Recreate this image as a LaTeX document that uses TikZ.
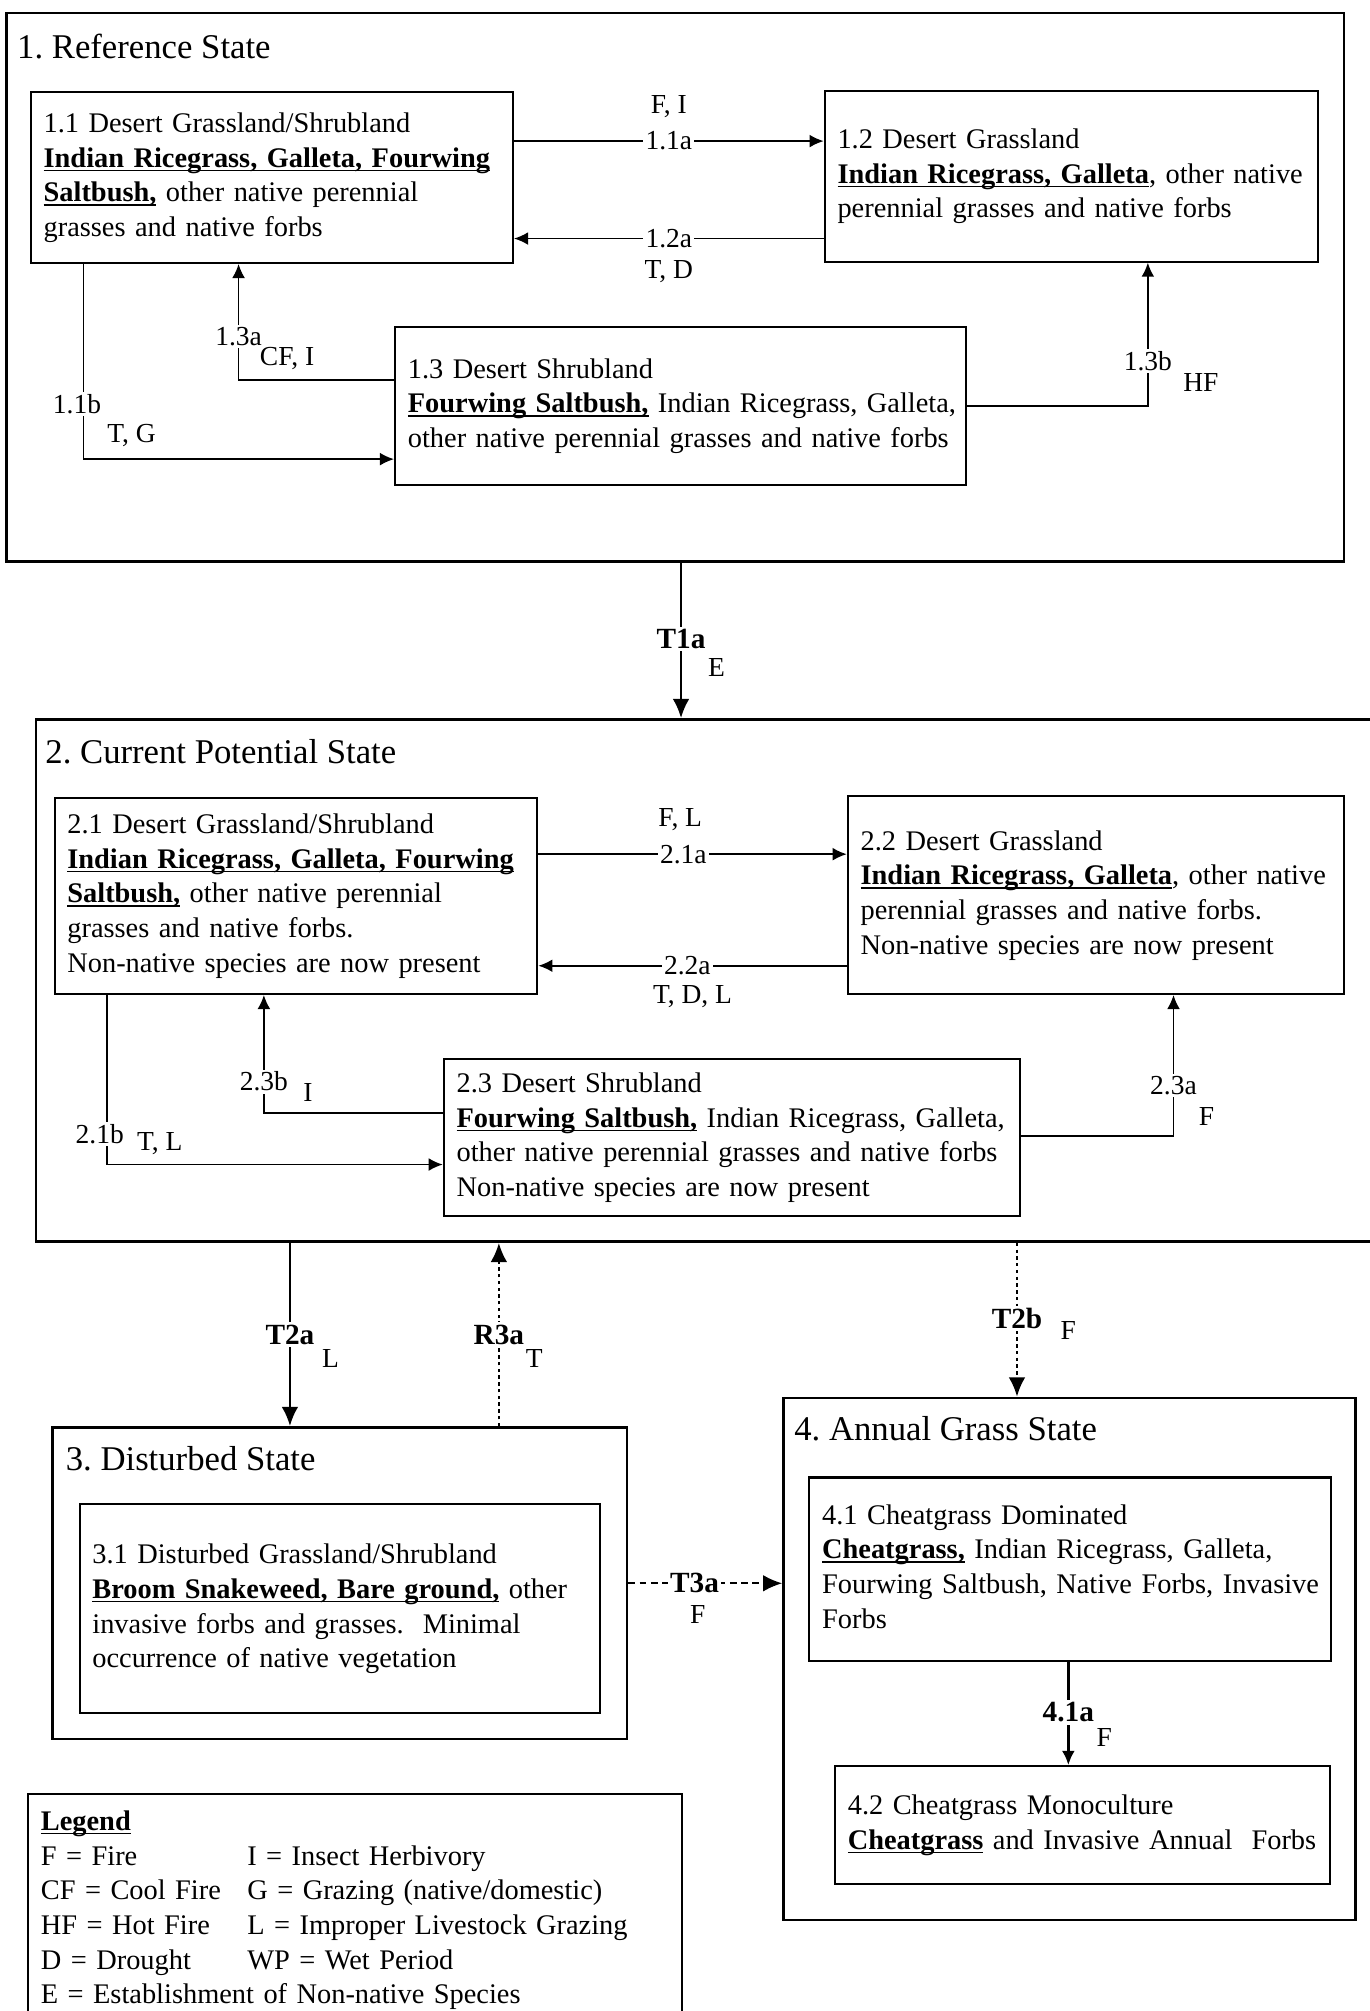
\documentclass[tikz,border=0pt]{standalone}
\usepackage{fontspec}
\setmainfont{Liberation Serif}
\usetikzlibrary{arrows.meta,positioning}

\newsavebox{\spbox}
\newcommand{\species}[1]{\sbox{\spbox}{\textbf{#1}}\rlap{\rule[-1.7pt]{\wd\spbox}{0.6pt}}\usebox{\spbox}}
\newcommand{\lines}[1]{\begin{tabular}{@{}l@{}}#1\end{tabular}}
\newcommand{\bodyfont}{\fontsize{12.6}{15.4}\selectfont}
\newcommand{\labfont}{\fontsize{12.2}{13.5}\selectfont}
\newcommand{\titlefont}{\fontsize{15.4}{18}\selectfont}

\tikzset{
  statebox/.style={draw, line width=1.2pt, inner sep=0pt},
  phasebox/.style={draw, line width=0.9pt, align=left, inner xsep=0.2cm, inner ysep=0pt, font=\bodyfont},
  statetitle/.style={anchor=west, inner sep=0pt, font=\titlefont},
  pharrow/.style={-{Latex[length=2.2mm,width=2mm]}, line width=0.8pt},
  trarrow/.style={-{Latex[length=3mm,width=2.6mm]}, line width=1.2pt},
  dotarrow/.style={trarrow, dash pattern=on 1.5pt off 1.5pt},
  dasharrow/.style={trarrow, line width=1pt, dash pattern=on 3pt off 2pt},
  edgelab/.style={fill=white, inner sep=1pt, font=\labfont},
  causelab/.style={inner sep=0pt, font=\labfont},
  translab/.style={fill=white, inner sep=1pt, font=\fontsize{13}{15}\selectfont\bfseries},
}

\begin{document}
\frenchspacing
\begin{tikzpicture}[x=0.02cm, y=-0.02cm]
            \fill[white] (0,0) rectangle (1068,1568);
            \useasboundingbox (0,0) rectangle (1068,1568);
            % States:
                \node[statebox, minimum width=20.86cm, minimum height=8.56cm] (S1) at (526.5,224) {};
                \node[statebox, minimum width=21.04cm, minimum height=8.14cm] (S2) at (554,764.5) {};
                \node[statebox, minimum width=8.96cm, minimum height=4.86cm] (S3) at (265,1234.5) {};
                \node[statebox, minimum width=8.92cm, minimum height=8.14cm] (S4) at (834,1293.5) {};
                \node[statetitle] (t1) at ([shift={(9,27)}]S1.north west) {1. Reference State};
                \node[statetitle] (t2) at ([shift={(8,26)}]S2.north west) {2. Current Potential State};
                \node[statetitle] (t3) at ([shift={(11,25)}]S3.north west) {3. Disturbed State};
                \node[statetitle] (t4) at ([shift={(9,25)}]S4.north west) {4. Annual Grass State};
            % Community phases:
                \node[phasebox, text width=7.12cm, minimum height=2.66cm] (s11) at (212,138.5)
                    {\lines{1.1 Desert Grassland/Shrubland\\ \species{Indian Ricegrass, Galleta, Fourwing}\\ \species{Saltbush,} other native perennial\\ grasses and native forbs}};
                \node[phasebox, text width=7.30cm, minimum height=2.66cm] (s12) at (835.5,137.5)
                    {\lines{1.2 Desert Grassland\\ \species{Indian Ricegrass, Galleta}, other native\\ perennial grasses and native forbs}};
                \node[phasebox, text width=8.50cm, minimum height=2.46cm] (s13) at (530.5,316.5)
                    {\lines{1.3 Desert Shrubland\\ \species{Fourwing Saltbush,} Indian Ricegrass, Galleta,\\ other native perennial grasses and native forbs}};
                \node[phasebox, text width=7.13cm, minimum height=3.06cm] (s21) at (230.75,698.5)
                    {\lines{2.1 Desert Grassland/Shrubland\\ \species{Indian Ricegrass, Galleta, Fourwing}\\ \species{Saltbush,} other native perennial\\ grasses and native forbs.\\ Non-native species are now present}};
                \node[phasebox, text width=7.34cm, minimum height=3.08cm] (s22) at (854.5,698)
                    {\lines{2.2 Desert Grassland\\ \species{Indian Ricegrass, Galleta}, other native\\ perennial grasses and native forbs.\\ Non-native species are now present}};
                \node[phasebox, text width=8.58cm, minimum height=2.44cm] (s23) at (570.5,887)
                    {\lines{2.3 Desert Shrubland\\ \species{Fourwing Saltbush,} Indian Ricegrass, Galleta,\\ other native perennial grasses and native forbs\\ Non-native species are now present}};
                \node[phasebox, text width=7.72cm, minimum height=3.26cm] (s31) at (265,1254.5)
                    {\lines{3.1 Disturbed Grassland/Shrubland\\ \species{Broom Snakeweed, Bare ground,} other\\ invasive forbs and grasses.\ \ Minimal\\ occurrence of native vegetation}};
                \node[phasebox, text width=7.74cm, minimum height=2.86cm] (s41) at (834.5,1223.5)
                    {\lines{4.1 Cheatgrass Dominated\\ \species{Cheatgrass,} Indian Ricegrass, Galleta,\\ Fourwing Saltbush, Native Forbs, Invasive\\ Forbs}};
                \node[phasebox, text width=7.32cm, minimum height=1.84cm] (s42) at (844,1423)
                    {\lines{4.2 Cheatgrass Monoculture\\ \species{Cheatgrass} and Invasive Annual\ \ Forbs}};
            % Legend:
                \node[draw, line width=1pt, anchor=north west, text width=9.8cm, inner xsep=0.2cm, inner ysep=0.26cm, align=left, font=\bodyfont] (leg) at (21,1398)
                    {\species{Legend}\\
                     \makebox[3.22cm][l]{F = Fire}I = Insect Herbivory\\
                     \makebox[3.22cm][l]{CF = Cool Fire}G = Grazing (native/domestic)\\
                     \makebox[3.22cm][l]{HF = Hot Fire}L = Improper Livestock Grazing\\
                     \makebox[3.22cm][l]{D = Drought}WP = Wet Period\\
                     E = Establishment of Non-native Species};
            % Pathways within states:
                \draw[pharrow] ([yshift=0.57cm]s11.east) coordinate (p11a) -- (p11a -| s12.west)
                    node[edgelab, midway] (l11a) {1.1a} node[causelab, midway, yshift=0.54cm] (c11a) {F, I};
                \draw[pharrow] ([yshift=-0.97cm]s12.west) coordinate (p12a) -- (p12a -| s11.east)
                    node[edgelab, midway] (l12a) {1.2a} node[causelab, midway, yshift=-0.52cm] (c12a) {T, D};
                \draw[pharrow] ([yshift=0.41cm]s13.west) -| ([xshift=-0.52cm]s11.south)
                    node[edgelab, pos=0.687] (l13a) {1.3a} node[causelab, pos=0.59, anchor=west, xshift=0.32cm] (c13a) {CF, I};
                \draw[pharrow] ([xshift=-2.94cm]s11.south) |- ([yshift=-0.83cm]s13.west)
                    node[edgelab, pos=0.358, xshift=-0.1cm] (l11b) {1.1b} node[causelab, pos=0.44, anchor=west, xshift=0.36cm] (c11b) {T, G};
                \draw[pharrow] (s13.east) -| ([xshift=1.19cm]s12.south)
                    node[edgelab, pos=0.656] (l13b) {1.3b} node[causelab, pos=0.58, anchor=west, xshift=0.54cm] (c13b) {HF};
                \draw[pharrow] ([yshift=0.65cm]s21.east) coordinate (p21a) -- (p21a -| s22.west)
                    node[edgelab, pos=0.47] (l21a) {2.1a} node[causelab, pos=0.46, yshift=0.54cm] (c21a) {F, L};
                \draw[pharrow] ([yshift=-1.1cm]s22.west) coordinate (p22a) -- (p22a -| s21.east)
                    node[edgelab, pos=0.517] (l22a) {2.2a} node[causelab, pos=0.5, yshift=-0.48cm] (c22a) {T, D, L};
                \draw[pharrow] ([yshift=0.38cm]s23.west) -| ([xshift=-0.5cm]s21.south)
                    node[edgelab, pos=0.634] (l23b) {2.3b} node[causelab, pos=0.586, anchor=west, xshift=0.6cm] (c23b) {I};
                \draw[pharrow] ([xshift=-2.95cm]s21.south) |- ([yshift=-0.42cm]s23.west)
                    node[edgelab, pos=0.41, xshift=-0.11cm] (l21b) {2.1b} node[causelab, pos=0.437, anchor=west, xshift=0.46cm] (c21b) {T, L};
                \draw[pharrow] ([yshift=0.02cm]s23.east) -| ([xshift=1.21cm]s22.south)
                    node[edgelab, pos=0.679] (l23a) {2.3a} node[causelab, pos=0.569, anchor=west, xshift=0.38cm] (c23a) {F};
                \draw[pharrow, line width=1.1pt] ([xshift=-0.03cm]s41.south) coordinate (p41a) -- (p41a |- s42.north)
                    node[translab, pos=0.49] (l41a) {4.1a} node[causelab, pos=0.73, anchor=west, xshift=0.42cm] (c41a) {F};
            % Transitions between states:
                \draw[trarrow] ([xshift=0.09cm]S1.south) coordinate (pt1a) -- (pt1a |- S2.north)
                    node[translab, pos=0.49] (lt1a) {T1a} node[causelab, pos=0.67, anchor=west, xshift=0.4cm] (ct1a) {E};
                \draw[trarrow] ([xshift=-6.56cm]S2.south) coordinate (pt2a) -- (pt2a |- S3.north)
                    node[translab, pos=0.5] (lt2a) {T2a} node[causelab, pos=0.63, anchor=west, xshift=0.48cm] (ct2a) {L};
                \draw[dotarrow] ([xshift=2.48cm]S3.north) coordinate (pr3a) -- (pr3a |- S2.south)
                    node[translab, pos=0.5] (lr3a) {R3a} node[causelab, pos=0.37, anchor=west, xshift=0.4cm] (cr3a) {T};
                \draw[dotarrow] ([xshift=4.78cm]S2.south) coordinate (pt2b) -- (pt2b |- S4.north)
                    node[translab, pos=0.49] (lt2b) {T2b} node[causelab, pos=0.57, anchor=west, xshift=0.66cm] (ct2b) {F};
                \draw[dasharrow] (S3.east) -- (S3.east -| S4.west)
                    node[translab, pos=0.43] (lt3a) {T3a} node[causelab, pos=0.45, yshift=-0.48cm] (ct3a) {F};
\end{tikzpicture}
\end{document}
